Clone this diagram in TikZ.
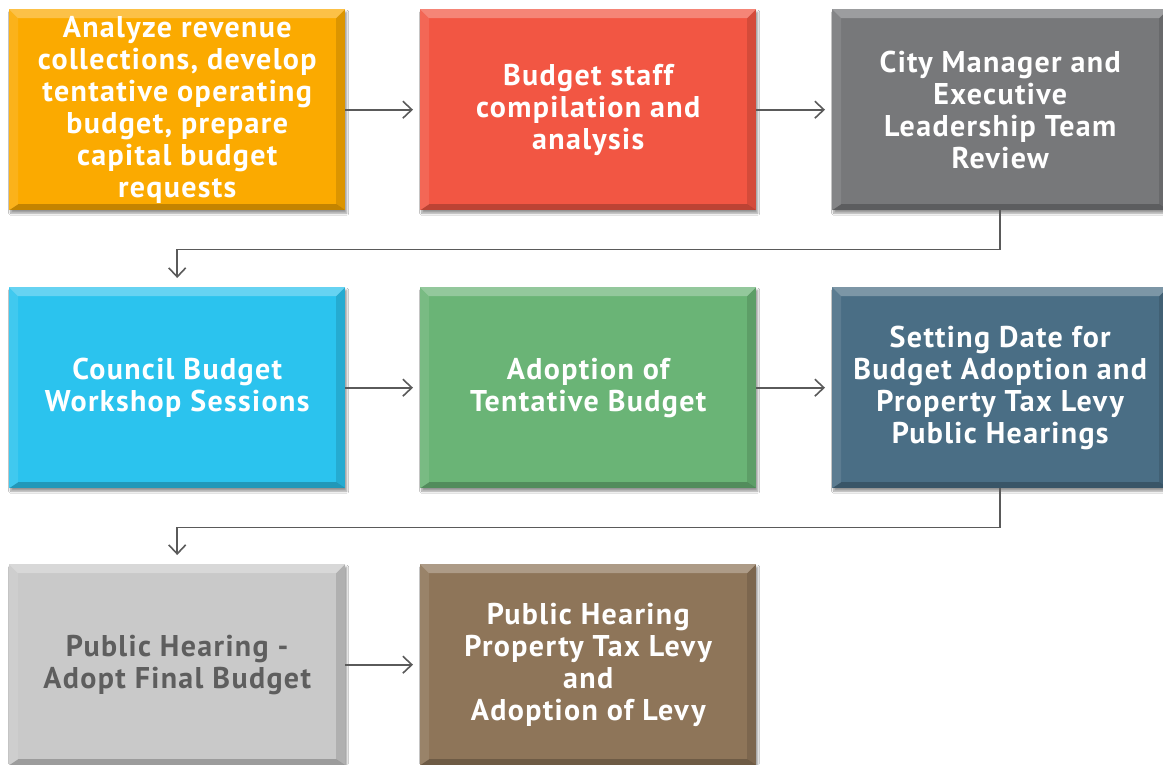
\documentclass[tikz,border=0pt]{standalone}
\usepackage{fontspec}
\setmainfont{PT Sans}
\newfontfamily\boxfont[LetterSpace=4.5]{PT Sans}
\usetikzlibrary{arrows.meta,shadows.blur}
\definecolor{cOrange}{HTML}{FBAA00}
\definecolor{cRed}{HTML}{F25643}
\definecolor{cGray}{HTML}{77787A}
\definecolor{cCyan}{HTML}{2BC3EE}
\definecolor{cGreen}{HTML}{6AB476}
\definecolor{cSlate}{HTML}{4A6E85}
\definecolor{cLight}{HTML}{C9C9C9}
\definecolor{cBrown}{HTML}{8E7559}
\definecolor{cLine}{HTML}{5A5A5A}
\definecolor{cDarkText}{HTML}{5E5E5E}
\tikzset{
  stepbox/.style={
    rectangle, anchor=north west, inner sep=0pt,
    minimum width=336pt, minimum height=201pt,
    fill=#1, text=white, align=center,
    font=\boxfont\bfseries\fontsize{30}{32}\selectfont,
    blur shadow={shadow xshift=1.5pt, shadow yshift=-3pt, shadow opacity=40, shadow blur steps=6},
    path picture={
      \def\bb{path picture bounding box}
      % upper bevel
      \fill[white, opacity=0.28] (\bb.north west) -- (\bb.north east)
        -- ([xshift=-9pt,yshift=-9pt]\bb.north east) -- ([xshift=9pt,yshift=-9pt]\bb.north west) -- cycle;
      % lower bevel
      \fill[black, opacity=0.22] (\bb.south west) -- (\bb.south east)
        -- ([xshift=-9pt,yshift=6pt]\bb.south east) -- ([xshift=9pt,yshift=6pt]\bb.south west) -- cycle;
      % side bevels
      \fill[white, opacity=0.10] (\bb.north west) -- ([xshift=9pt,yshift=-9pt]\bb.north west)
        -- ([xshift=9pt,yshift=6pt]\bb.south west) -- (\bb.south west) -- cycle;
      \fill[black, opacity=0.12] (\bb.north east) -- ([xshift=-9pt,yshift=-9pt]\bb.north east)
        -- ([xshift=-9pt,yshift=6pt]\bb.south east) -- (\bb.south east) -- cycle;
    }
  },
  flow/.style={draw=cLine, line width=1.6pt,
    -{Straight Barb[length=9pt,width=17pt,line width=1.6pt]}},
}
\begin{document}
\begin{tikzpicture}[x=1pt,y=-1pt]
\useasboundingbox (0,0) rectangle (1163,764);
\clip (0,0) rectangle (1163,764);
\fill[white] (0,0) rectangle (1163,764);

% first row
\node[stepbox=cOrange] (b1) at (9,9) {Analyze revenue\\collections, develop\\tentative operating\\budget, prepare\\capital budget\\requests};
\node[stepbox=cRed] (b2) at (420,9) {Budget staff\\compilation and\\analysis};
\node[stepbox=cGray] (b3) at (832,9) {City Manager and\\Executive\\Leadership Team\\Review};

% second row
\node[stepbox=cCyan] (b4) at (9,287) {Council Budget\\Workshop Sessions};
\node[stepbox=cGreen] (b5) at (420,287) {Adoption of\\Tentative Budget};
\node[stepbox=cSlate] (b6) at (832,287) {Setting Date for\\Budget Adoption and\\Property Tax Levy\\Public Hearings};

% third row
\node[stepbox=cLight, text=cDarkText] (b7) at (9,564) {Public Hearing -\\Adopt Final Budget};
\node[stepbox=cBrown] (b8) at (420,564) {Public Hearing\\Property Tax Levy\\and\\Adoption of Levy};

% connectors
\draw[flow, shorten >=7pt] (b1.east) -- (b2.west);
\draw[flow, shorten >=7pt] (b2.east) -- (b3.west);
\draw[flow, shorten >=9pt] (b3.south) -- ++(0,39) -| (b4.north);
\draw[flow, shorten >=7pt] (b4.east) -- (b5.west);
\draw[flow, shorten >=7pt] (b5.east) -- (b6.west);
\draw[flow, shorten >=9pt] (b6.south) -- ++(0,39) -| (b7.north);
\draw[flow, shorten >=7pt] (b7.east) -- (b8.west);
\end{tikzpicture}
\end{document}
